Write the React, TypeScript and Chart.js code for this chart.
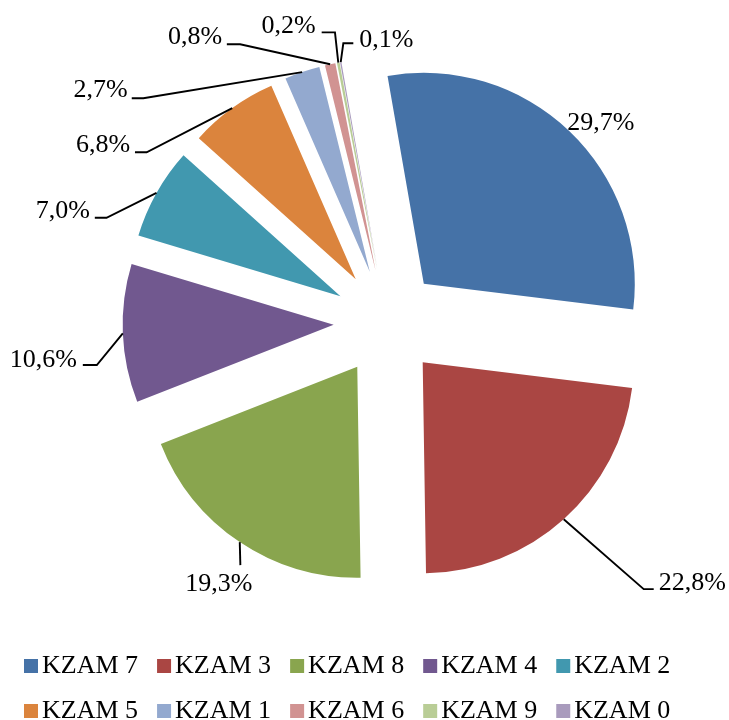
import React, { useEffect, useRef } from 'react';
import { Chart, registerables, ArcElement, PieController } from 'chart.js';

Chart.register(...registerables);

// ---- data ----
const categories = ['KZAM 7', 'KZAM 3', 'KZAM 8', 'KZAM 4', 'KZAM 2', 'KZAM 5', 'KZAM 1', 'KZAM 6', 'KZAM 9', 'KZAM 0'];
const shares = [29.7, 22.8, 19.3, 10.6, 7.0, 6.8, 2.7, 0.8, 0.2, 0.1];

// ---- styles ----
const colors = ['#4572A7', '#AA4643', '#89A54E', '#71588F', '#4198AF', '#DB843D', '#93A9CF', '#D19392', '#B9CD96', '#A99BBD'];
const FONT = "'Liberation Serif', 'Times New Roman', serif";
const EXPLODE = 53.4; // distance each slice is pulled out of the pie

// label placement relative to the midpoint of each slice's outer edge
// elbow: leader-line bend, tail: horizontal stub length, text: text anchor
const labelLayout: { elbow: number[] | null; tail: number; text: number[]; align: CanvasTextAlign }[] = [
  { elbow: null, tail: 0, text: [-2, -1], align: 'left' },
  { elbow: [80, 70], tail: 10, text: [95, 71], align: 'left' },
  { elbow: [0.6, 23], tail: 0, text: [-21, 48.5], align: 'center' },
  { elbow: [-26, 31.7], tail: -14, text: [-46, 33.4], align: 'right' },
  { elbow: [-50, 24.8], tail: -11.7, text: [-66.5, 25.1], align: 'right' },
  { elbow: [-85.6, 44.2], tail: -11.7, text: [-102, 43.6], align: 'right' },
  { elbow: [-158.8, 26.2], tail: -11.6, text: [-174.5, 25.2], align: 'right' },
  { elbow: [-90, -20], tail: -13.3, text: [-108, -20.3], align: 'right' },
  { elbow: [-3.3, -30.3], tail: -13.3, text: [-22.5, -29.3], align: 'right' },
  { elbow: [2.6, -18.9], tail: 10, text: [18.5, -15.5], align: 'left' },
];

const fmt = (v: number) => v.toFixed(1).replace('.', ',') + '%';

// Arc that is translated outward (Excel-style pie explosion)
class ExplodedArc extends ArcElement {
  static id = 'explodedArc';
  draw(ctx: CanvasRenderingContext2D) {
    const self: any = this;
    const mid = (self.startAngle + self.endAngle) / 2;
    ctx.save();
    ctx.translate(Math.cos(mid) * EXPLODE, Math.sin(mid) * EXPLODE);
    super.draw(ctx);
    ctx.restore();
  }
}

class ExplodedPieController extends PieController {
  static id = 'explodedPie';
  static defaults = { dataElementType: 'explodedArc' };
}

Chart.register(ExplodedArc as any, ExplodedPieController as any);

const labelPlugin = {
  id: 'sliceLabels',
  afterDatasetsDraw(chart: any) {
    const ctx: CanvasRenderingContext2D = chart.ctx;
    const meta = chart.getDatasetMeta(0);
    ctx.save();
    ctx.font = `26px ${FONT}`;
    ctx.fillStyle = '#000';
    ctx.strokeStyle = '#000';
    ctx.lineWidth = 1.9;
    ctx.lineJoin = 'miter';
    ctx.textBaseline = 'alphabetic';
    meta.data.forEach((arc: any, i: number) => {
      const { x, y, startAngle, endAngle, outerRadius } = arc.getProps(
        ['x', 'y', 'startAngle', 'endAngle', 'outerRadius'],
        true
      );
      const mid = (startAngle + endAngle) / 2;
      const r = outerRadius + EXPLODE;
      const px = x + Math.cos(mid) * r;
      const py = y + Math.sin(mid) * r;
      const L = labelLayout[i];
      if (L.elbow) {
        const ex = px + L.elbow[0];
        const ey = py + L.elbow[1];
        ctx.beginPath();
        ctx.moveTo(px, py);
        ctx.lineTo(ex, ey);
        if (L.tail) ctx.lineTo(ex + L.tail, ey);
        ctx.stroke();
      }
      ctx.textAlign = L.align;
      ctx.fillText(fmt(shares[i]), px + L.text[0], py + L.text[1]);
    });
    ctx.restore();
  },
};

function makeSwatch(color: string): HTMLCanvasElement {
  const c = document.createElement('canvas');
  c.width = 35;
  c.height = 14;
  const g = c.getContext('2d')!;
  g.fillStyle = color;
  g.fillRect(15, 0, 14, 14);
  return c;
}

export default function App() {
  const ref = useRef<HTMLCanvasElement>(null);
  useEffect(() => {
    const swatches = colors.map(makeSwatch);
    const chart = new Chart(ref.current as HTMLCanvasElement, {
      type: 'explodedPie' as any,
      data: {
        labels: categories,
        datasets: [
          {
            data: shares,
            backgroundColor: colors,
            borderWidth: 0,
            offset: 0,
            rotation: -9.9,
            radius: 211,
          } as any,
        ],
      },
      options: {
        responsive: false,
        maintainAspectRatio: false,
        devicePixelRatio: 1,
        animation: false,
        events: [],
        layout: { padding: { left: 5, right: 0, top: 11, bottom: 0 } },
        plugins: {
          tooltip: { enabled: false },
          legend: {
            position: 'bottom',
            align: 'start',
            labels: {
              usePointStyle: true,
              pointStyleWidth: 5,
              padding: 19,
              color: '#000',
              font: { family: FONT, size: 26 },
              generateLabels: () =>
                categories.map((text, i) => ({
                  text,
                  fillStyle: colors[i],
                  strokeStyle: colors[i],
                  lineWidth: 0,
                  pointStyle: swatches[i] as any,
                  hidden: false,
                  index: i,
                  fontColor: '#000',
                })),
            },
          },
        },
      } as any,
      plugins: [labelPlugin],
    });
    return () => chart.destroy();
  }, []);

  return (
    <div
      style={{
        position: 'fixed',
        left: 0,
        top: 0,
        width: 729,
        height: 720,
        overflow: 'hidden',
        background: '#fff',
      }}
    >
      <canvas ref={ref} width={769} height={734} style={{ display: 'block', width: 769, height: 734 }} />
    </div>
  );
}
